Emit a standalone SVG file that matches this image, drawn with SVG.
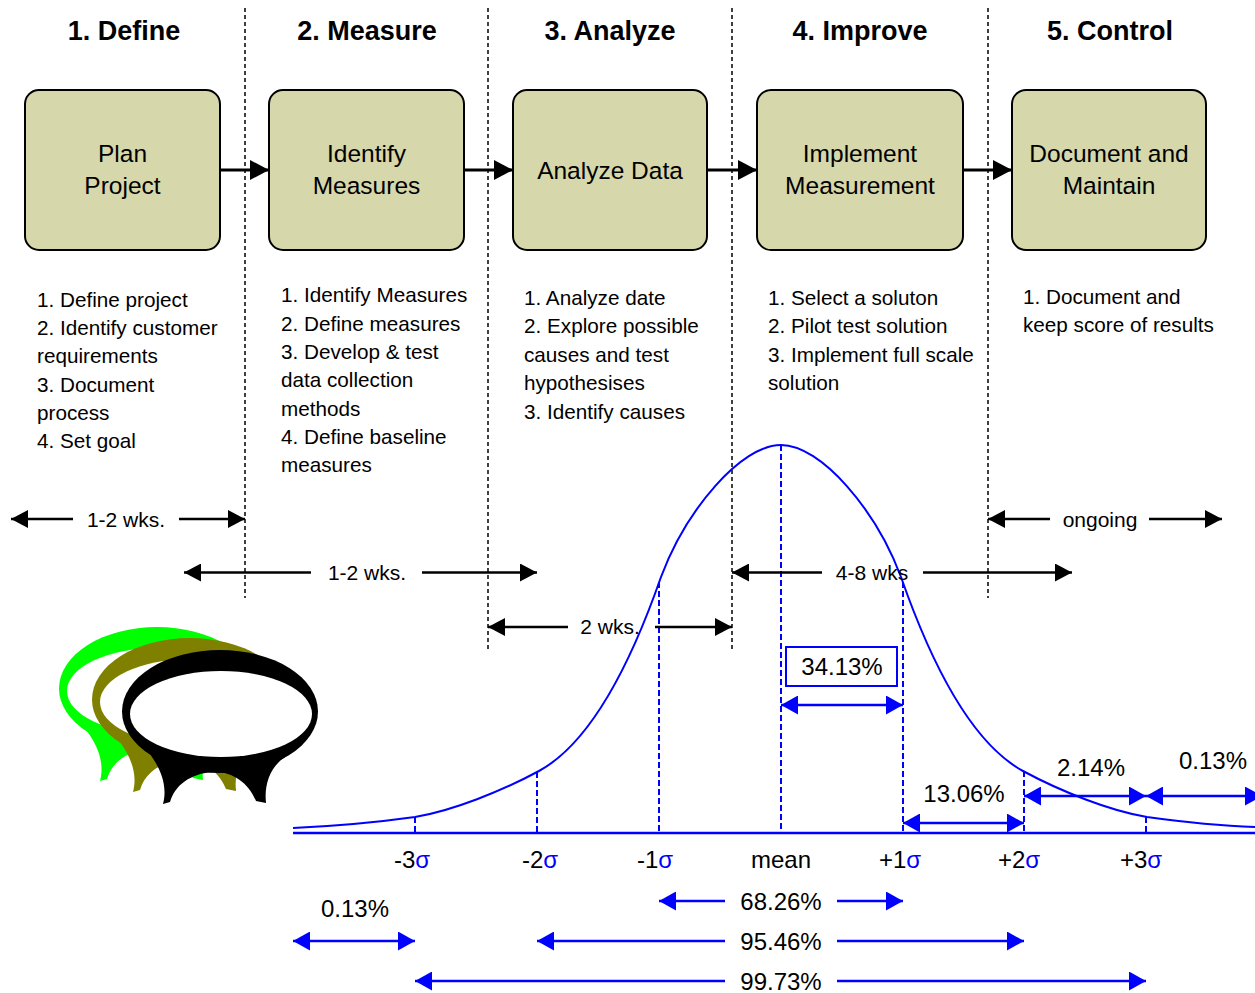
<svg xmlns="http://www.w3.org/2000/svg" xmlns:xlink="http://www.w3.org/1999/xlink" width="1255" height="993" viewBox="0 0 1255 993">
  <style>
    text { font-family: "Liberation Sans", Arial, sans-serif; fill: #000; }
    .hdr { font-size: 27px; font-weight: bold; text-anchor: middle; }
    .box { fill: #d6d7aa; stroke: #000; stroke-width: 2; }
    .bt { font-size: 24.5px; text-anchor: middle; }
    .lst { font-size: 20.7px; }
    .dur { font-size: 21px; text-anchor: middle; }
    .pct { font-size: 24px; text-anchor: middle; }
    .sig { font-size: 24px; text-anchor: middle; }
    .vd { stroke: #000; stroke-width: 1.5; stroke-dasharray: 4 3; fill: none; }
    .bd { stroke: #00f; stroke-width: 2; stroke-dasharray: 6 3; fill: none; }
    .flow { stroke: #000; stroke-width: 3; fill: none; }
    .ka { stroke: #000; stroke-width: 2.5; fill: none; }
    .ba { stroke: #00f; stroke-width: 2.5; fill: none; }
  </style>
  <defs>
    <marker id="headFlow" viewBox="0 0 19 20" refX="19" refY="10" markerWidth="19" markerHeight="20" markerUnits="userSpaceOnUse" orient="auto-start-reverse">
      <path d="M0,0 L19,10 L0,20 z" fill="#000"/>
    </marker>
    <marker id="headK" viewBox="0 0 17 18" refX="17" refY="9" markerWidth="17" markerHeight="18" markerUnits="userSpaceOnUse" orient="auto-start-reverse">
      <path d="M0,0 L17,9 L0,18 z" fill="#000"/>
    </marker>
    <marker id="headB" viewBox="0 0 17 19" refX="17" refY="9.5" markerWidth="17" markerHeight="19" markerUnits="userSpaceOnUse" orient="auto-start-reverse">
      <path d="M0,0 L17,9.5 L0,19 z" fill="#00f"/>
    </marker>
    <!-- ring with feet; outer fill comes from each use -->
    <g id="ring">
      <ellipse cx="220" cy="711.5" rx="98" ry="61.5"/>
      <path d="M150,754 C160,768 168,785 163,804 L170,802 C175,785 190,774 212,772 C232,771 248,782 256,801 L266,803 C264,785 270,767 285,757 Z"/>
      <ellipse cx="221" cy="714" rx="91" ry="43" fill="#fff"/>
    </g>
  </defs>

  <rect width="1255" height="993" fill="#fff"/>

  <!-- phase separators -->
  <g id="separators">
    <line class="vd" x1="245" y1="8" x2="245" y2="598"/>
    <line class="vd" x1="488" y1="8" x2="488" y2="650"/>
    <line class="vd" x1="732" y1="8" x2="732" y2="650"/>
    <line class="vd" x1="988" y1="8" x2="988" y2="598"/>
  </g>

  <!-- phase titles -->
  <g id="headers">
    <text class="hdr" x="124" y="40">1. Define</text>
    <text class="hdr" x="367" y="40">2. Measure</text>
    <text class="hdr" x="610" y="40">3. Analyze</text>
    <text class="hdr" x="860" y="40">4. Improve</text>
    <text class="hdr" x="1110" y="40">5. Control</text>
  </g>

  <!-- process steps -->
  <g id="node-plan">
    <rect class="box" x="25" y="90" width="195" height="160" rx="14"/>
    <text class="bt" x="122.5" y="162">Plan</text>
    <text class="bt" x="122.5" y="194">Project</text>
  </g>
  <g id="node-identify">
    <rect class="box" x="269" y="90" width="195" height="160" rx="14"/>
    <text class="bt" x="366.5" y="162">Identify</text>
    <text class="bt" x="366.5" y="194">Measures</text>
  </g>
  <g id="node-analyze">
    <rect class="box" x="513" y="90" width="194" height="160" rx="14"/>
    <text class="bt" x="610" y="179">Analyze Data</text>
  </g>
  <g id="node-implement">
    <rect class="box" x="757" y="90" width="206" height="160" rx="14"/>
    <text class="bt" x="860" y="162">Implement</text>
    <text class="bt" x="860" y="194">Measurement</text>
  </g>
  <g id="node-document">
    <rect class="box" x="1012" y="90" width="194" height="160" rx="14"/>
    <text class="bt" x="1109" y="162">Document and</text>
    <text class="bt" x="1109" y="194">Maintain</text>
  </g>

  <!-- task lists -->
  <g id="tasks">
    <text class="lst" x="37" y="306.5">1. Define project</text>
    <text class="lst" x="37" y="335">2. Identify customer</text>
    <text class="lst" x="37" y="363">requirements</text>
    <text class="lst" x="37" y="391.5">3. Document</text>
    <text class="lst" x="37" y="419.5">process</text>
    <text class="lst" x="37" y="448">4. Set goal</text>

    <text class="lst" x="281" y="302">1. Identify Measures</text>
    <text class="lst" x="281" y="330.5">2. Define measures</text>
    <text class="lst" x="281" y="359">3. Develop &amp; test</text>
    <text class="lst" x="281" y="387">data collection</text>
    <text class="lst" x="281" y="415.5">methods</text>
    <text class="lst" x="281" y="444">4. Define baseline</text>
    <text class="lst" x="281" y="472">measures</text>

    <text class="lst" x="524" y="304.5">1. Analyze date</text>
    <text class="lst" x="524" y="333">2. Explore  possible</text>
    <text class="lst" x="524" y="361.5">causes and  test</text>
    <text class="lst" x="524" y="390">hypothesises</text>
    <text class="lst" x="524" y="418.5">3. Identify causes</text>

    <text class="lst" x="768" y="304.5">1. Select a soluton</text>
    <text class="lst" x="768" y="333">2. Pilot test solution</text>
    <text class="lst" x="768" y="361.5">3. Implement full scale</text>
    <text class="lst" x="768" y="390">solution</text>

    <text class="lst" x="1023" y="303.5">1. Document and</text>
    <text class="lst" x="1023" y="332">keep score of results</text>
  </g>

  <!-- logo: three rings -->
  <g id="logo">
    <use xlink:href="#ring" href="#ring" fill="#00ff00" transform="translate(-63,-23)"/>
    <use xlink:href="#ring" href="#ring" fill="#808000" transform="translate(-30,-12)"/>
    <use xlink:href="#ring" href="#ring" fill="#000"/>
  </g>

  <!-- normal distribution -->
  <g id="distribution">
    <line x1="293" y1="833" x2="1255" y2="833" stroke="#00f" stroke-width="2.5"/>
    <path d="M293,828 C337,826 372,823 415,817 C452,811 502,791 539,771 C592,742 632,660 661,577 C686,510 741,445 781,445 C821,445 876,510 901,577 C930,660 970,742 1023,771 C1060,791 1110,811 1147,817 C1190,823 1225,826 1255,827" fill="none" stroke="#00f" stroke-width="2"/>
    <line class="bd" x1="415" y1="817" x2="415" y2="833"/>
    <line class="bd" x1="537" y1="772" x2="537" y2="833"/>
    <line class="bd" x1="659" y1="582" x2="659" y2="833"/>
    <line class="bd" x1="781" y1="445" x2="781" y2="833"/>
    <line class="bd" x1="903" y1="582" x2="903" y2="833"/>
    <line class="bd" x1="1024" y1="771" x2="1024" y2="833"/>
    <line class="bd" x1="1146" y1="817" x2="1146" y2="833"/>
    <rect x="786" y="647" width="111" height="39" fill="#fff" stroke="#00f" stroke-width="2"/>
  </g>

  <!-- axis labels -->
  <g id="axis-labels">
    <text class="sig" x="412" y="868">-3<tspan fill="#00f">σ</tspan></text>
    <text class="sig" x="540" y="868">-2<tspan fill="#00f">σ</tspan></text>
    <text class="sig" x="655" y="868">-1<tspan fill="#00f">σ</tspan></text>
    <text class="sig" x="781" y="868">mean</text>
    <text class="sig" x="900" y="868">+1<tspan fill="#00f">σ</tspan></text>
    <text class="sig" x="1019" y="868">+2<tspan fill="#00f">σ</tspan></text>
    <text class="sig" x="1141" y="868">+3<tspan fill="#00f">σ</tspan></text>
  </g>

  <!-- connectors -->
  <g id="connectors">
    <line class="flow" x1="220" y1="170" x2="269" y2="170" marker-end="url(#headFlow)"/>
    <line class="flow" x1="464" y1="170" x2="513" y2="170" marker-end="url(#headFlow)"/>
    <line class="flow" x1="707" y1="170" x2="757" y2="170" marker-end="url(#headFlow)"/>
    <line class="flow" x1="963" y1="170" x2="1012" y2="170" marker-end="url(#headFlow)"/>

    <line class="ka" x1="11" y1="519" x2="73" y2="519" marker-start="url(#headK)"/>
    <line class="ka" x1="179" y1="519" x2="245" y2="519" marker-end="url(#headK)"/>
    <line class="ka" x1="184" y1="572.5" x2="311" y2="572.5" marker-start="url(#headK)"/>
    <line class="ka" x1="422" y1="572.5" x2="537" y2="572.5" marker-end="url(#headK)"/>
    <line class="ka" x1="488" y1="627" x2="568" y2="627" marker-start="url(#headK)"/>
    <line class="ka" x1="655" y1="627" x2="732" y2="627" marker-end="url(#headK)"/>
    <line class="ka" x1="732" y1="572.5" x2="822" y2="572.5" marker-start="url(#headK)"/>
    <line class="ka" x1="923" y1="572.5" x2="1072" y2="572.5" marker-end="url(#headK)"/>
    <line class="ka" x1="988" y1="519" x2="1050" y2="519" marker-start="url(#headK)"/>
    <line class="ka" x1="1149" y1="519" x2="1222" y2="519" marker-end="url(#headK)"/>

    <line class="ba" x1="781" y1="705" x2="903" y2="705" marker-start="url(#headB)" marker-end="url(#headB)"/>
    <line class="ba" x1="903" y1="823" x2="1024" y2="823" marker-start="url(#headB)" marker-end="url(#headB)"/>
    <line class="ba" x1="1024" y1="796" x2="1146" y2="796" marker-start="url(#headB)" marker-end="url(#headB)"/>
    <line class="ba" x1="1146" y1="796" x2="1262" y2="796" marker-start="url(#headB)" marker-end="url(#headB)"/>
    <line class="ba" x1="293" y1="941" x2="415" y2="941" marker-start="url(#headB)" marker-end="url(#headB)"/>
    <line class="ba" x1="659" y1="901" x2="725" y2="901" marker-start="url(#headB)"/>
    <line class="ba" x1="837" y1="901" x2="903" y2="901" marker-end="url(#headB)"/>
    <line class="ba" x1="537" y1="941" x2="725" y2="941" marker-start="url(#headB)"/>
    <line class="ba" x1="837" y1="941" x2="1024" y2="941" marker-end="url(#headB)"/>
    <line class="ba" x1="415" y1="981" x2="725" y2="981" marker-start="url(#headB)"/>
    <line class="ba" x1="837" y1="981" x2="1146" y2="981" marker-end="url(#headB)"/>
  </g>

  <!-- connector labels -->
  <g id="durations">
    <text class="dur" x="126" y="526.5">1-2 wks.</text>
    <text class="dur" x="367" y="580">1-2 wks.</text>
    <text class="dur" x="610" y="634">2 wks.</text>
    <text class="dur" x="872" y="580">4-8 wks</text>
    <text class="dur" x="1100" y="526.5">ongoing</text>
  </g>
  <g id="percentages">
    <text class="pct" x="842" y="675">34.13%</text>
    <text class="pct" x="964" y="802">13.06%</text>
    <text class="pct" x="1091" y="776">2.14%</text>
    <text class="pct" x="1213" y="769">0.13%</text>
    <text class="pct" x="355" y="917">0.13%</text>
    <text class="pct" x="781" y="910">68.26%</text>
    <text class="pct" x="781" y="950">95.46%</text>
    <text class="pct" x="781" y="990">99.73%</text>
  </g>
</svg>
